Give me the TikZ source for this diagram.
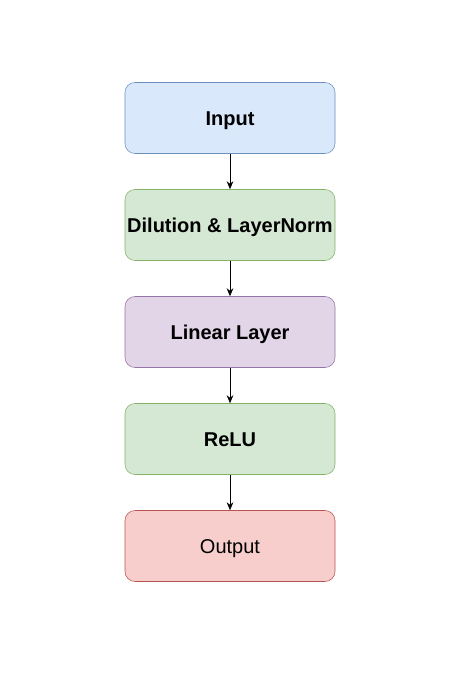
\documentclass[tikz,border=0pt]{standalone}
\usepackage{fontspec}
\setmainfont{Liberation Sans}
\usetikzlibrary{arrows.meta,positioning}
\definecolor{inblue}{HTML}{DAE8FC}
\definecolor{inbluedraw}{HTML}{6C8EBF}
\definecolor{lngreen}{HTML}{D5E8D4}
\definecolor{lngreendraw}{HTML}{82B366}
\definecolor{linpurple}{HTML}{E1D5E7}
\definecolor{linpurpledraw}{HTML}{9673A6}
\definecolor{outred}{HTML}{F8CECC}
\definecolor{outreddraw}{HTML}{B85450}
\tikzset{
     layer node/.style={rectangle, rounded corners=7.5pt, minimum width=157.5pt, minimum height=53.25pt, inner sep=0pt, text height=10.8pt, text depth=0pt, font=\fontsize{15}{17}\selectfont},
      inputbox/.style  = {layer node, fill=inblue, draw=inbluedraw, font=\fontsize{15}{17}\selectfont\bfseries},
      greenbox/.style  = {layer node, fill=lngreen, draw=lngreendraw, font=\fontsize{15}{17}\selectfont\bfseries},
      linearbox/.style = {layer node, fill=linpurple, draw=linpurpledraw, font=\fontsize{15}{17}\selectfont\bfseries},
      outputbox/.style = {layer node, fill=outred, draw=outreddraw},
      flowedge/.style  = {black, -{Stealth[length=6pt,width=5pt]}, line width=0.6pt},
    }

\begin{document}
\begin{tikzpicture}[node distance=80.25pt, on grid]
            \useasboundingbox (0,0) rectangle (339.75pt,-510pt);
            \node [inputbox] (input) at (172.5pt,-88.5pt) {Input};
            \node [greenbox] (dilution) [below=of input]    {Dilution \& LayerNorm};
            \node [linearbox] (linear) [below=of dilution]  {Linear Layer};
            \node [greenbox] (relu) [below=of linear]       {ReLU};
            \node [outputbox] (output) [below=of relu]      {Output};

            \draw[flowedge] (input) -- (dilution);
            \draw[flowedge] (dilution) -- (linear);
            \draw[flowedge] (linear) -- (relu);
            \draw[flowedge] (relu) -- (output);
      \end{tikzpicture}
\end{document}
